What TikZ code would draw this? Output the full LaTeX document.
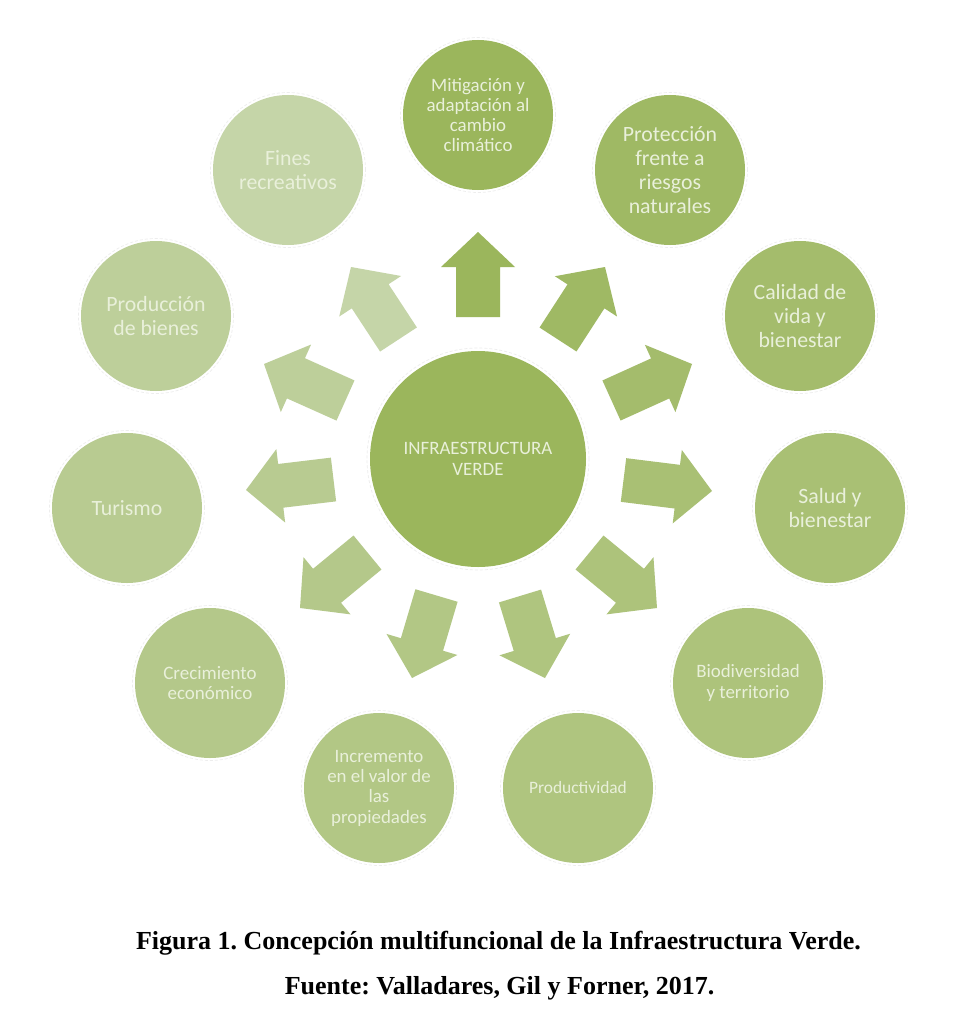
\documentclass[tikz,border=0pt]{standalone}
\usepackage{fontspec}
\setmainfont{Liberation Serif}
\newfontfamily\bubblefont{Carlito}
\usetikzlibrary{calc}
\frenchspacing
\definecolor{c1}{HTML}{9BB65C}
\definecolor{c2}{HTML}{9FB964}
\definecolor{c3}{HTML}{A4BC6C}
\definecolor{c4}{HTML}{A9C074}
\definecolor{c5}{HTML}{ADC37B}
\definecolor{c6}{HTML}{AFC57F}
\definecolor{c7}{HTML}{B2C785}
\definecolor{c8}{HTML}{B4C88A}
\definecolor{c9}{HTML}{B8CB91}
\definecolor{c10}{HTML}{BDCF9A}
\definecolor{c11}{HTML}{C5D5A8}
\definecolor{bubbletext}{HTML}{E9F0DA}
\tikzset{
  bubble/.style={circle,inner sep=0pt,minimum size=150pt,align=center,text=bubbletext},
  hub/.style={bubble,minimum size=216pt,fill=c1,font=\bubblefont\fontsize{18.9}{20.5}\selectfont},
  ring/.style={draw=gray!14,line width=0.7pt,densely dashed},
  big/.style={font=\bubblefont\fontsize{21.8}{24}\selectfont},
  mid/.style={font=\bubblefont\fontsize{18.9}{20.3}\selectfont},
  small/.style={font=\bubblefont\fontsize{19}{20}\selectfont},
  tiny/.style={font=\bubblefont\fontsize{17.4}{20}\selectfont},
  caption/.style={font=\bfseries\fontsize{26}{30}\selectfont,text=black,inner sep=0pt,anchor=center}
}
% block arrow from tail centre #1 to tip #2, colour #3
\newcommand{\blockarrow}[3]{%
  \coordinate (hb) at ($(#2)!35pt!(#1)$);
  \fill[#3] ($(#1)!22pt!90:(#2)$) -- ($(hb)!22pt!90:(#2)$) -- ($(hb)!37pt!90:(#2)$) -- (#2)
    -- ($(hb)!37pt!-90:(#2)$) -- ($(hb)!22pt!-90:(#2)$) -- ($(#1)!22pt!-90:(#2)$) -- cycle;
}
\begin{document}
\begin{tikzpicture}[x=1pt,y=-1pt]
\useasboundingbox (0,0) rectangle (960,1030);
\fill[white] (0,0) rectangle (960,1030);

% faint dashed rims
\foreach \px/\py in {478/115,670/170,800/316,830/508,748/683,578/788,379/788,210/683,127/508,156/316,288/170}
  \draw[ring] (\px,\py) circle (77.5pt);
\draw[ring] (478,459) circle (111pt);

\node[hub] (hubnode) at (478,459) {INFRAESTRUCTURA\\VERDE};

\node[bubble,fill=c1,mid]  (n1)  at (478,115) {Mitigación y\\adaptación al\\cambio\\climático};
\node[bubble,fill=c2,big]  (n2)  at (670,170) {Protección\\frente a\\riesgos\\naturales};
\node[bubble,fill=c3,big]  (n3)  at (800,316) {Calidad de\\vida y\\bienestar};
\node[bubble,fill=c4,big]  (n4)  at (830,508) {Salud y\\bienestar};
\node[bubble,fill=c5,mid]  (n5)  at (748,683) {Biodiversidad\\y territorio};
\node[bubble,fill=c6,tiny] (n6)  at (578,788) {Productividad};
\node[bubble,fill=c7,mid]  (n7)  at (379,788) {Incremento\\en el valor de\\las\\propiedades};
\node[bubble,fill=c8,small](n8)  at (210,683) {Crecimiento\\económico};
\node[bubble,fill=c9,big]  (n9)  at (127,508) {Turismo};
\node[bubble,fill=c10,big] (n10) at (156,316) {Producción\\de bienes};
\node[bubble,fill=c11,big] (n11) at (288,170) {Fines\\recreativos};

\coordinate (t1) at (478,317);     \coordinate (a1) at (478,232);
\coordinate (t2) at (558,339.5);   \coordinate (a2) at (605,267);
\coordinate (t3) at (611.5,400.5); \coordinate (a3) at (692,364);
\coordinate (t4) at (623.5,480);   \coordinate (a4) at (712,491);
\coordinate (t5) at (589.5,552.5); \coordinate (a5) at (657,608);
\coordinate (t6) at (520,596);     \coordinate (a6) at (545,678);
\coordinate (t7) at (436.5,595.5); \coordinate (a7) at (412,678);
\coordinate (t8) at (367.5,552.5); \coordinate (a8) at (300,608);
\coordinate (t9) at (333.5,479.5); \coordinate (a9) at (246,490);
\coordinate (t10) at (345.5,400.5);\coordinate (a10) at (264,364);
\coordinate (t11) at (398.5,339.5);\coordinate (a11) at (351,267);
\blockarrow{t1}{a1}{c1}
\blockarrow{t2}{a2}{c2}
\blockarrow{t3}{a3}{c3}
\blockarrow{t4}{a4}{c4}
\blockarrow{t5}{a5}{c5}
\blockarrow{t6}{a6}{c6}
\blockarrow{t7}{a7}{c7}
\blockarrow{t8}{a8}{c8}
\blockarrow{t9}{a9}{c9}
\blockarrow{t10}{a10}{c10}
\blockarrow{t11}{a11}{c11}

\node[caption] (cap1) at (498.5,943) {Figura 1. Concepción multifuncional de la Infraestructura Verde.};
\node[caption] (cap2) at (499.5,988) {Fuente: Valladares, Gil y Forner, 2017.};
\end{tikzpicture}
\end{document}
